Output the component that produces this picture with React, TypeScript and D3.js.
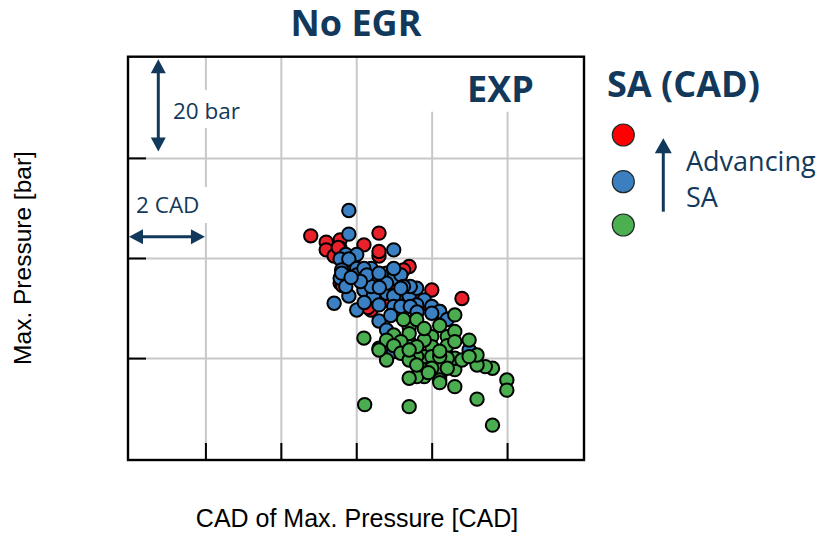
import React from "react";
import * as d3 from "d3";

// ---- data (CAD of max pressure [CAD], max pressure [bar]) ----
const redPoints: [number, number][] = [
  [8.78, 84.53], [9.19, 83.27], [9.19, 81.73], [9.56, 83.73], [9.56, 82.07], [10.59, 85.07],
  [10.19, 82.73], [10.59, 80.5], [10.59, 81.4], [11.39, 78.4], [11.99, 73.7], [12.79, 72.0],
  [9.56, 75.07], [10.27, 77.73], [11.24, 77.73], [10.38, 69.7], [9.79, 79.9], [10.0, 78.0],
  [10.79, 76.07], [11.59, 72.0], [11.0, 75.07], [10.44, 74.4], [11.79, 71.07], [9.4, 80.5],
  [12.2, 69.4], [10.79, 71.73], [11.17, 73.07], [9.51, 82.2], [9.62, 74.6], [10.3, 70.2],
];
const bluePoints: [number, number][] = [
  [9.79, 89.6], [9.79, 84.87], [10.98, 81.73], [9.71, 80.8], [9.56, 79.9], [10.0, 80.8],
  [9.79, 79.9], [10.0, 78.0], [10.38, 78.0], [9.56, 76.07], [10.0, 76.73], [10.38, 76.07],
  [10.79, 77.07], [10.98, 77.73], [10.98, 76.07], [11.17, 76.73], [9.79, 72.5], [9.4, 71.07],
  [10.0, 69.7], [10.19, 73.7], [10.44, 72.5], [10.59, 70.73], [10.79, 73.07], [10.98, 72.5],
  [10.98, 70.4], [11.17, 70.4], [11.39, 72.5], [11.59, 74.07], [11.79, 71.73], [11.99, 70.4],
  [12.2, 69.4], [10.59, 67.5], [10.79, 65.73], [10.59, 62.07], [10.98, 61.4], [13.01, 61.4],
  [11.42, 74.4], [11.24, 74.4], [10.19, 78.0], [10.38, 74.4], [10.79, 75.07], [11.17, 74.07],
  [11.59, 70.73], [11.42, 70.4], [10.98, 78.0], [10.27, 76.73], [9.6, 77.73], [9.71, 74.4],
  [10.59, 77.07], [11.99, 69.07], [11.39, 67.07], [12.4, 67.8], [12.98, 61.73], [9.6, 77.07],
  [10.1, 75.4], [10.6, 74.2], [10.9, 68.6], [11.6, 69.3], [10.2, 71.2], [9.85, 76.2],
];
const greenPoints: [number, number][] = [
  [10.19, 64.1], [10.21, 50.8], [11.39, 50.4], [13.6, 46.7], [13.19, 51.9], [13.98, 55.73],
  [13.98, 53.7], [13.6, 58.07], [13.41, 58.4], [13.19, 58.73], [13.19, 60.73], [12.98, 63.7],
  [12.6, 68.73], [12.6, 57.8], [12.6, 54.4], [12.6, 60.07], [12.79, 59.73], [12.2, 56.4],
  [12.2, 57.8], [11.79, 56.4], [11.79, 58.4], [11.59, 56.4], [11.39, 56.07], [11.79, 60.4],
  [11.59, 60.4], [11.39, 63.4], [11.39, 66.3], [11.39, 65.0], [11.24, 67.8], [11.59, 67.8],
  [10.98, 64.73], [10.79, 63.7], [10.79, 59.73], [10.59, 61.73], [11.99, 64.4], [11.99, 62.4],
  [12.2, 66.6], [12.4, 64.4], [12.4, 62.6], [12.6, 65.4], [12.6, 63.4], [12.4, 60.07],
  [11.99, 60.4], [12.2, 60.4], [11.79, 63.7], [11.59, 62.4], [11.17, 63.4], [10.98, 62.6],
  [11.17, 61.07], [11.99, 58.07], [12.2, 55.73], [11.39, 59.73], [12.4, 58.07], [11.59, 58.73],
  [12.98, 60.4], [11.79, 66.0], [12.2, 61.5], [11.39, 61.73], [12.2, 55.2], [11.9, 57.2],
];
const xGridTicks = [6, 8, 10, 12, 14];
const yGridTicks = [60, 80, 100];
const seriesColors = ["#e8212a", "#3a80c3", "#4aad4f"];
const legendColors = ["#ff0000", "#3b7fc0", "#4caf50"];

const NAVY = "#12395b";
const SANS = "'Open Sans', 'Noto Sans', sans-serif";
const ARIAL = "'Liberation Sans', Arial, sans-serif";

function arrowHead(tipX: number, tipY: number, dx: number, dy: number, len = 14, half = 8) {
  const bx = tipX - dx * len;
  const by = tipY - dy * len;
  const px = -dy, py = dx;
  return `M${tipX},${tipY}L${bx + px * half},${by + py * half}L${bx - px * half},${by - py * half}Z`;
}

export default function App() {
  const x = d3.scaleLinear().domain([4, 16]).range([130.5, 583]);
  const y = d3.scaleLinear().domain([40, 120]).range([458.7, 58.3]);
  const fL = 128, fT = 56.7, fR = 584, fB = 460;

  const series = [
    { pts: redPoints, color: seriesColors[0] },
    { pts: bluePoints, color: seriesColors[1] },
    { pts: greenPoints, color: seriesColors[2] },
  ];

  const vx = 158.3;
  const vTop = y(120) + 1, vBot = y(100) - 7;
  const hy = 236.7;
  const hL = fL + 1, hR = x(6) - 1;

  return (
    <svg width={825} height={535} style={{ position: "absolute", left: 0, top: 0 }}>
      <rect width={825} height={535} fill="#fff" />
      {xGridTicks.map((t) => (
        <line key={"gx" + t} x1={x(t)} x2={x(t)} y1={fT} y2={fB} stroke="#c8c8c8" strokeWidth={2} />
      ))}
      {yGridTicks.map((t) => (
        <line key={"gy" + t} x1={fL} x2={fR} y1={y(t)} y2={y(t)} stroke="#c8c8c8" strokeWidth={2} />
      ))}
      <rect x={168} y={90} width={82} height={38} fill="#fff" />
      <rect x={132} y={187} width={80} height={36} fill="#fff" />
      <rect x={429} y={fT + 1} width={116} height={54} fill="#fff" />

      {yGridTicks.map((t) => (
        <line key={"ty" + t} x1={fL} x2={fL + 18} y1={y(t)} y2={y(t)} stroke="#000" strokeWidth={2} />
      ))}
      {xGridTicks.map((t) => (
        <line key={"tx" + t} x1={x(t)} x2={x(t)} y1={fB} y2={fB - 17} stroke="#000" strokeWidth={2} />
      ))}
      <rect x={fL} y={fT} width={fR - fL} height={fB - fT} fill="none" stroke="#000" strokeWidth={2.4} />

      {series.map((s, i) => (
        <g key={"s" + i}>
          {s.pts.map((p, j) => (
            <circle key={j} cx={x(p[0])} cy={y(p[1])} r={6.7} fill={s.color} stroke="#000" strokeWidth={2} />
          ))}
        </g>
      ))}

      <line x1={vx} x2={vx} y1={vTop + 10} y2={vBot - 10} stroke={NAVY} strokeWidth={3} />
      <path d={arrowHead(vx, vTop, 0, -1, 14, 7.5)} fill={NAVY} />
      <path d={arrowHead(vx, vBot, 0, 1, 14, 7.5)} fill={NAVY} />
      <text x={173} y={119} fontFamily={SANS} fontSize={22.5} fill={NAVY}>20 bar</text>

      <line x1={hL + 10} x2={hR - 10} y1={hy} y2={hy} stroke={NAVY} strokeWidth={3} />
      <path d={arrowHead(hL, hy, -1, 0, 14, 7.5)} fill={NAVY} />
      <path d={arrowHead(hR, hy, 1, 0, 14, 7.5)} fill={NAVY} />
      <text x={136} y={213} fontFamily={SANS} fontSize={22.5} fill={NAVY}>2 CAD</text>

      <text x={467} y={101.7} fontFamily={SANS} fontWeight={700} fontSize={36} fill={NAVY}>EXP</text>

      <text x={356} y={36} textAnchor="middle" fontFamily={SANS} fontWeight={700} fontSize={36} fill={NAVY}>No EGR</text>

      <text x={607} y={96.7} fontFamily={SANS} fontWeight={700} fontSize={36} fill={NAVY}>SA (CAD)</text>
      {legendColors.map((c, i) => (
        <circle key={"l" + i} cx={623.3} cy={[135, 181.7, 225][i]} r={11} fill={c} stroke="#1e2a2a" strokeWidth={1.2} />
      ))}
      <line x1={663.3} x2={663.3} y1={211.7} y2={150} stroke={NAVY} strokeWidth={3} />
      <path d={arrowHead(663.3, 138.3, 0, -1, 15, 8.5)} fill={NAVY} />
      <text x={686} y={170.7} fontFamily={SANS} fontSize={27} fill={NAVY}>Advancing</text>
      <text x={686} y={206.7} fontFamily={SANS} fontSize={27} fill={NAVY}>SA</text>

      <text x={357} y={527} textAnchor="middle" fontFamily={ARIAL} fontSize={25} fill="#000">CAD of Max. Pressure [CAD]</text>
      <text transform={`translate(31,258) rotate(-90)`} textAnchor="middle" fontFamily={ARIAL} fontSize={24.5} fill="#000">Max. Pressure [bar]</text>
    </svg>
  );
}
